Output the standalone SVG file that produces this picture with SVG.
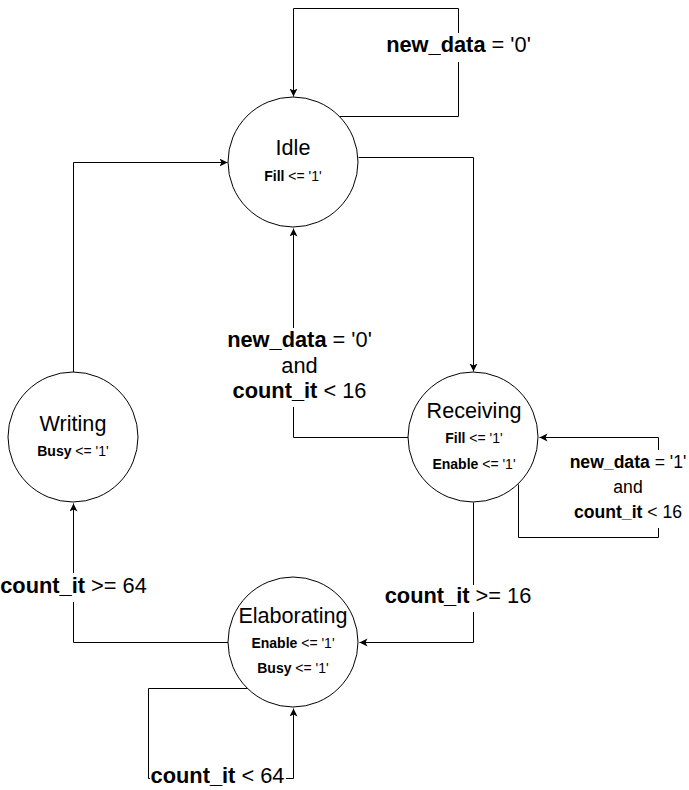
<svg xmlns="http://www.w3.org/2000/svg" width="689" height="790" viewBox="0 0 689 790">
<defs>
<style>
text{font-family:"Liberation Sans",Arial,sans-serif;fill:#000;text-anchor:middle}
.st{fill:#fff;stroke:#000;stroke-width:1}
.nm{font-size:21.6px}
.sm{font-size:14px}
.lb{font-size:21.8px}
.lb2{font-size:17.6px}
.b{font-weight:bold}
.e{fill:none;stroke:#000;stroke-width:1;marker-end:url(#arr)}
.bg{fill:#fff;stroke:none}
</style>
<marker id="arr" markerWidth="10" markerHeight="10" refX="8" refY="4" orient="auto" markerUnits="userSpaceOnUse">
<path d="M0,0 L8,4 L0,8 L2,4 z" fill="#000"/>
</marker>
</defs>
<g id="connectors">
<g transform="translate(0.5,0.5)">
<path class="e" d="M339,116 H458 V8 H293 V96"/>
<path class="e" d="M358,157 H473 V371"/>
<path class="e" d="M408,437 H293 V228"/>
<path class="e" d="M518,484 V537 H658 V437 H539"/>
<path class="e" d="M473,502 V642 H359"/>
<path class="e" d="M228,642 H73 V503"/>
<path class="e" d="M73,372 V162 H227"/>
<path class="e" d="M247,688 H148 V778 H293 V708"/>
</g>
<g id="labels">
<rect class="bg" x="386" y="33" width="146" height="29"/>
<text class="lb" x="458.5" y="52"><tspan class="b">new_data</tspan> = '0'</text>
<rect class="bg" x="226" y="328" width="147" height="79"/>
<text class="lb" x="299.5" y="347"><tspan class="b">new_data</tspan> = '0'</text>
<text class="lb" x="299.5" y="373">and</text>
<text class="lb" x="299.5" y="398"><tspan class="b">count_it</tspan> &lt; 16</text>
<rect class="bg" x="568" y="450" width="120" height="78"/>
<text class="lb2" x="628" y="468"><tspan class="b">new_data</tspan> = '1'</text>
<text class="lb2" x="628" y="493">and</text>
<text class="lb2" x="628" y="518"><tspan class="b">count_it</tspan> &lt; 16</text>
<rect class="bg" x="385" y="585" width="146" height="27"/>
<text class="lb" x="458" y="603"><tspan class="b">count_it</tspan> &gt;= 16</text>
<rect class="bg" x="0" y="573" width="148" height="29"/>
<text class="lb" x="73.5" y="593"><tspan class="b">count_it</tspan> &gt;= 64</text>
<rect class="bg" x="150" y="765" width="136" height="25"/>
<text class="lb" x="217.5" y="783"><tspan class="b">count_it</tspan> &lt; 64</text>
</g>
</g>
<g id="idle">
<circle class="st" cx="293" cy="162" r="65"/>
<text class="nm" x="293" y="155">Idle</text>
<text class="sm" x="293" y="181"><tspan class="b">Fill</tspan> &lt;= '1'</text>
</g>
<g id="receiving">
<circle class="st" cx="473" cy="437" r="65"/>
<text class="nm" x="474" y="418">Receiving</text>
<text class="sm" x="474" y="443"><tspan class="b">Fill</tspan> &lt;= '1'</text>
<text class="sm" x="474" y="469"><tspan class="b">Enable</tspan> &lt;= '1'</text>
</g>
<g id="writing">
<circle class="st" cx="73" cy="437" r="65"/>
<text class="nm" x="73" y="431">Writing</text>
<text class="sm" x="73" y="456"><tspan class="b">Busy</tspan> &lt;= '1'</text>
</g>
<g id="elaborating">
<circle class="st" cx="293" cy="642" r="65"/>
<text class="nm" x="293" y="623">Elaborating</text>
<text class="sm" x="293" y="648"><tspan class="b">Enable</tspan> &lt;= '1'</text>
<text class="sm" x="293" y="673"><tspan class="b">Busy</tspan> &lt;= '1'</text>
</g>
</svg>
